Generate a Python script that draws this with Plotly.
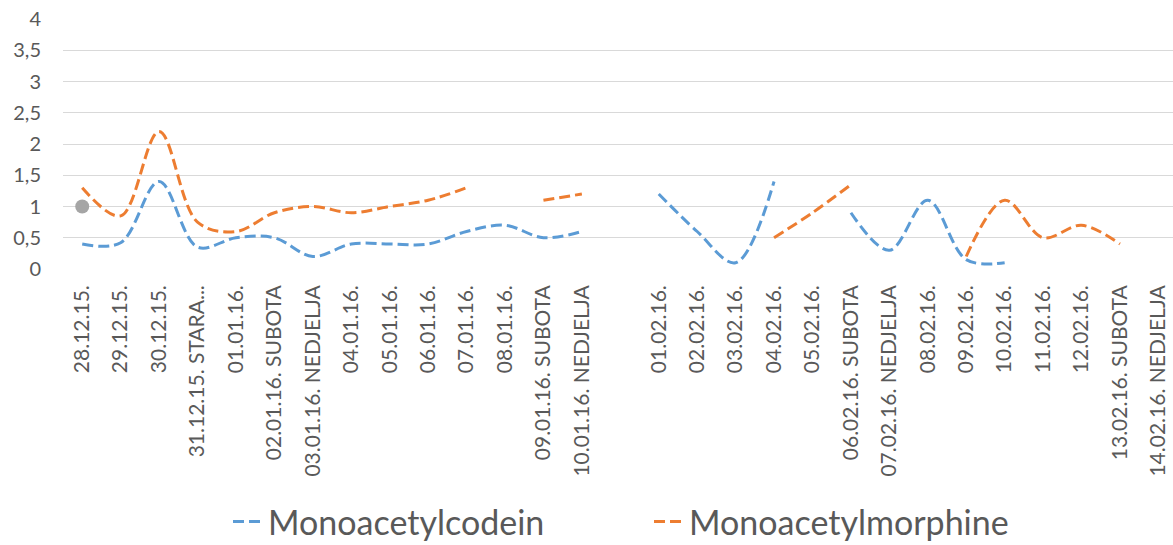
import plotly.graph_objects as go

categories = [
    "28.12.15.", "29.12.15.", "30.12.15.", "31.12.15. STARA...", "01.01.16.",
    "02.01.16. SUBOTA", "03.01.16. NEDJELJA", "04.01.16.", "05.01.16.", "06.01.16.",
    "07.01.16.", "08.01.16.", "09.01.16. SUBOTA", "10.01.16. NEDJELJA", " ",
    "01.02.16.", "02.02.16.", "03.02.16.", "04.02.16.", "05.02.16.",
    "06.02.16. SUBOTA", "07.02.16. NEDJELJA", "08.02.16.", "09.02.16.", "10.02.16.",
    "11.02.16.", "12.02.16.", "13.02.16. SUBOTA", "14.02.16. NEDJELJA",
]

monoacetylcodein = [
    0.4, 0.42, 1.4, 0.35, 0.5, 0.5, 0.2, 0.4, 0.4, 0.4, 0.6, 0.7, 0.5, 0.6, None,
    1.2, 0.6, 0.1, 1.4, None, 0.9, 0.3, 1.1, 0.15, 0.1, None, None, None, None,
]

monoacetylmorphine = [
    1.3, 0.85, 2.2, 0.75, 0.6, 0.9, 1.0, 0.9, 1.0, 1.1, 1.3, None, 1.1, 1.2, None,
    None, None, None, 0.5, 0.9, 1.35, None, None, 0.2, 1.1, 0.5, 0.7, 0.4, None,
]

third_series = [1.0] + [None] * 28

y_ticks = [0, 0.5, 1, 1.5, 2, 2.5, 3, 3.5, 4]
y_tick_text = ["0", "0,5", "1", "1,5", "2", "2,5", "3", "3,5", "4"]

FONT = "Lato"
TXT = "#595959"

fig = go.Figure()
fig.add_trace(go.Scatter(
    x=categories, y=monoacetylcodein, name="Monoacetylcodein", mode="lines",
    line=dict(color="#5b9bd5", width=3, dash="11px,5px", shape="spline", smoothing=1),
    connectgaps=False,
))
fig.add_trace(go.Scatter(
    x=categories, y=monoacetylmorphine, name="Monoacetylmorphine", mode="lines",
    line=dict(color="#ed7d31", width=3, dash="11px,5px", shape="spline", smoothing=1),
    connectgaps=False,
))
fig.add_trace(go.Scatter(
    x=categories, y=third_series, name="", mode="markers",
    marker=dict(color="#a5a5a5", size=14), showlegend=False,
))

fig.update_layout(
    template="none",
    width=1173, height=545,
    margin=dict(l=63, r=0, t=19, b=276, pad=0),
    paper_bgcolor="white", plot_bgcolor="white",
    font=dict(family=FONT, color=TXT),
    showlegend=True,
    legend=dict(
        orientation="h", xref="container", yref="container",
        x=228 / 1173, xanchor="left", y=1 - 493 / 545, yanchor="top",
        font=dict(family=FONT, size=34, color=TXT),
        entrywidth=376, entrywidthmode="pixels",
        bgcolor="rgba(0,0,0,0)", borderwidth=0,
    ),
)
fig.update_xaxes(
    type="category", categoryorder="array", categoryarray=categories,
    range=[-0.5, 28.38], tickangle=-90, tickfont=dict(family=FONT, size=21, color=TXT),
    showgrid=False, zeroline=False, showline=False, ticks="",
    ticklabelstandoff=11, automargin=False,
)
fig.update_yaxes(
    range=[0, 4], tickvals=y_ticks, ticktext=y_tick_text,
    tickfont=dict(family=FONT, size=20, color=TXT),
    showgrid=True, gridcolor="#d9d9d9", gridwidth=1.3, zeroline=False,
    showline=False, ticks="", ticklabelstandoff=21, automargin=False,
)

fig.write_html(
    "out.html",
    config={"displayModeBar": False},
    post_script="document.body.style.margin='0';document.body.style.overflow='hidden';",
)
